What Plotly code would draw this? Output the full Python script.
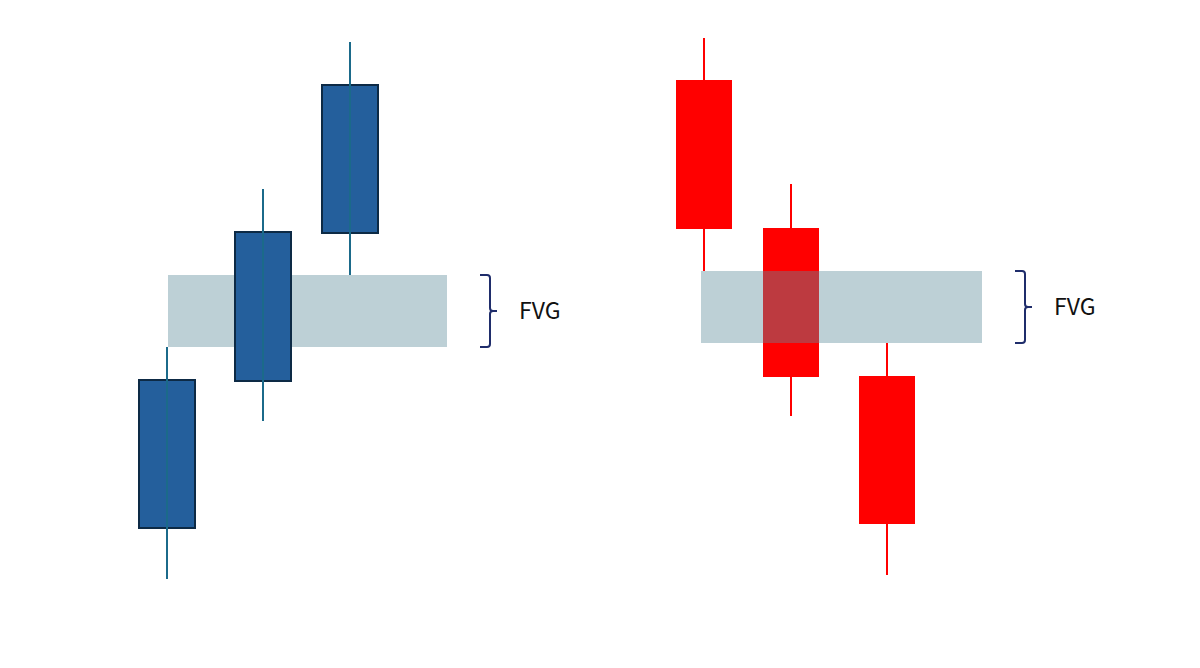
import plotly.graph_objects as go

# candle positions (time axis) and OHLC values
bull_x = [1.67, 2.63, 3.50]
bull_open = [14.0, 28.7, 43.5]
bull_close = [28.8, 43.6, 58.3]
bull_high = [32.1, 47.9, 62.6]
bull_low = [8.9, 24.7, 39.3]

bear_x = [7.04, 7.91, 8.87]
bear_open = [58.8, 44.0, 29.2]
bear_close = [43.9, 29.1, 14.4]
bear_high = [63.0, 48.4, 32.5]
bear_low = [39.7, 25.2, 9.3]

# fair value gaps: start, end, bottom, top
fvg_x0 = [1.68, 7.01]
fvg_x1 = [4.47, 9.82]
fvg_bottom = [32.1, 32.5]
fvg_top = [39.3, 39.7]
fvg_label = ["FVG", "FVG"]
fvg_layer = ["below", "above"]   # bullish candles sit over the gap, bearish under it

fig = go.Figure()


def add_candles(xs, o, c, h, l, fill, border, wick):
    base = [min(a, b) for a, b in zip(o, c)]
    size = [abs(b - a) for a, b in zip(o, c)]
    fig.add_trace(go.Bar(
        x=xs, y=size, base=base, width=0.56,
        marker=dict(color=fill, line=dict(color=border, width=2 if border != fill else 0)),
        hoverinfo="skip", showlegend=False,
    ))
    wx, wy = [], []
    for x, hi, lo in zip(xs, h, l):
        wx += [x, x, None]
        wy += [hi, lo, None]
    fig.add_trace(go.Scatter(
        x=wx, y=wy, mode="lines", line=dict(color=wick, width=2),
        hoverinfo="skip", showlegend=False,
    ))


add_candles(bull_x, bull_open, bull_close, bull_high, bull_low,
            "#245f9c", "#0d2a45", "#1b6a8a")
add_candles(bear_x, bear_open, bear_close, bear_high, bear_low,
            "#ff0000", "#ff0000", "#ff0000")

for x0, x1, lo, hi, lab, lay in zip(fvg_x0, fvg_x1, fvg_bottom, fvg_top, fvg_label, fvg_layer):
    fig.add_shape(type="rect", x0=x0, x1=x1, y0=lo, y1=hi,
                  fillcolor="rgba(95,140,155,0.41)", line_width=0, layer=lay)
    # curly brace to the right of the gap
    bx = x1 + 0.43
    tip = bx + 0.07
    hook = bx - 0.10
    mid = (lo + hi) / 2
    r = 0.3
    path = (f"M {hook},{hi} L {bx - 0.03},{hi} Q {bx},{hi} {bx},{hi - r} "
            f"L {bx},{mid + r} Q {bx},{mid} {bx + 0.03},{mid} L {tip},{mid} "
            f"M {bx + 0.03},{mid} Q {bx},{mid} {bx},{mid - r} "
            f"L {bx},{lo + r} Q {bx},{lo} {bx - 0.03},{lo} L {hook},{lo}")
    fig.add_shape(type="path", path=path, line=dict(color="#1f2d6b", width=2))
    fig.add_annotation(x=tip + 0.2, y=mid + 0.2, text=lab, showarrow=False,
                       xanchor="left", yanchor="middle",
                       font=dict(size=23, color="#111111", family="Noto Sans CJK KR"))

# ranges offset to compensate the page's 8px body margin
fig.update_layout(
    width=1200, height=668,
    margin=dict(l=0, r=0, t=0, b=0),
    plot_bgcolor="white", paper_bgcolor="white",
    barmode="overlay", bargap=0,
    xaxis=dict(range=[0.08, 12.08], visible=False, fixedrange=True),
    yaxis=dict(range=[-0.8, 66.0], visible=False, fixedrange=True),
    showlegend=False,
)

fig.write_html("out.html")
